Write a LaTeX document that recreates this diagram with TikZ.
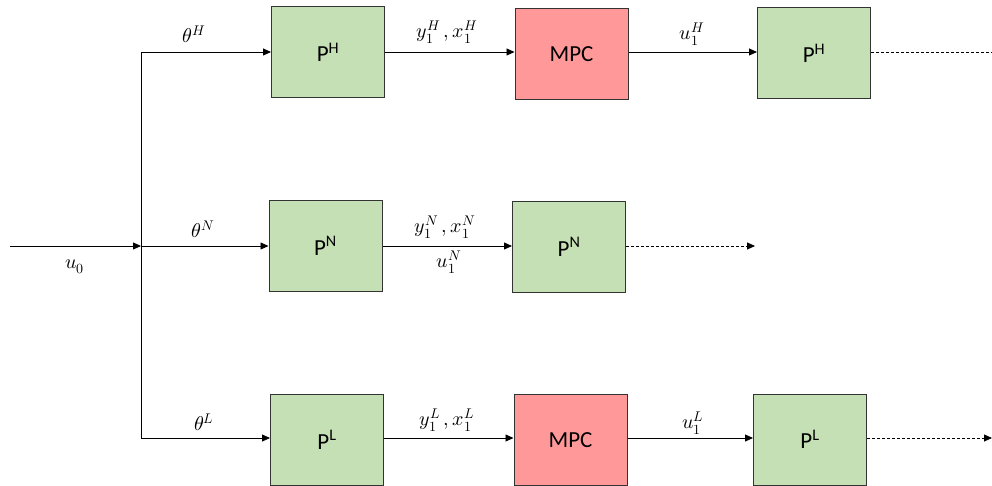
\documentclass[tikz,border=0pt]{standalone}
\usepackage{fontspec}
\setmainfont{Carlito}
\usepackage{unicode-math}
\setmathfont{Latin Modern Math}
\usetikzlibrary{arrows.meta}
\definecolor{boxgreen}{HTML}{C5E0B4}
\definecolor{boxred}{HTML}{FF9999}
\tikzset{
  blk/.style={draw=black!80, line width=1pt, minimum width=113pt, minimum height=91pt, inner sep=0pt, font=\fontsize{23}{25}\selectfont},
  pbox/.style={blk, fill=boxgreen},
  mbox/.style={blk, fill=boxred},
  conn/.style={line width=0.8pt, -{Triangle[length=8pt,width=7pt]}},
  plain/.style={line width=0.8pt},
  dconn/.style={line width=0.8pt, dashed, dash pattern=on 3pt off 2pt},
  lbl/.style={font=\fontsize{20}{22}\selectfont, inner sep=0pt}
}
\begin{document}
\begin{tikzpicture}[x=1pt,y=-1pt]
\useasboundingbox (0,0) rectangle (992,486);
% boxes
\node[pbox] (ph) at (328,52.5) {P\textsuperscript{H}};
\node[mbox] (mh) at (571.5,54) {MPC};
\node[pbox] (ph2) at (814,53.5) {P\textsuperscript{H}};
\node[pbox] (pn) at (325.5,246) {P\textsuperscript{N}};
\node[pbox] (pn2) at (569,247) {P\textsuperscript{N}};
\node[pbox] (pl) at (327,440) {P\textsuperscript{L}};
\node[mbox] (ml) at (570.5,440) {MPC};
\node[pbox] (pl2) at (810,439.5) {P\textsuperscript{L}};
% coordinates
\coordinate (in) at (10,246);
\coordinate (j) at (141,246);
\coordinate (jt) at (141,52);
\coordinate (jb) at (141,438);
\coordinate (eh) at (992,52);
\coordinate (en) at (755,246);
\coordinate (el) at (992,438);
% connectors
\draw[conn] (in) -- (j);
\draw[plain] (jt) -- (jb);
\draw[conn] (jt) -- (jt -| ph.west);
\draw[conn] (j) -- (j -| pn.west);
\draw[conn] (jb) -- (jb -| pl.west);
\draw[conn] (ph.east |- jt) -- (jt -| mh.west);
\draw[conn] (mh.east |- jt) -- (jt -| ph2.west);
\draw[conn] (pn.east |- j) -- (j -| pn2.west);
\draw[conn] (pl.east |- jb) -- (jb -| ml.west);
\draw[conn] (ml.east |- jb) -- (jb -| pl2.west);
\draw[dconn] (ph2.east |- jt) -- (eh);
\draw[dconn, -{Triangle[length=8pt,width=7pt]}] (pn2.east |- j) -- (en);
\draw[dconn, -{Triangle[length=8pt,width=7pt]}] (pl2.east |- jb) -- (el);
% labels
\node[lbl] (l0) at (75,267) {$u_0$};
\node[lbl] (lth) at (194,34) {$\theta^{H}$};
\node[lbl] (lyh) at (447,32) {$y_1^{H}\,,x_1^{H}$};
\node[lbl] (luh) at (692,34) {$u_1^{H}$};
\node[lbl] (ltn) at (203,229) {$\theta^{N}$};
\node[lbl] (lyn) at (445,227) {$y_1^{N}\,,x_1^{N}$};
\node[lbl] (lun) at (449,262) {$u_1^{N}$};
\node[lbl] (ltl) at (204,422) {$\theta^{L}$};
\node[lbl] (lyl) at (447,420) {$y_1^{L}\,,x_1^{L}$};
\node[lbl] (lul) at (693,423) {$u_1^{L}$};
\end{tikzpicture}
\end{document}
